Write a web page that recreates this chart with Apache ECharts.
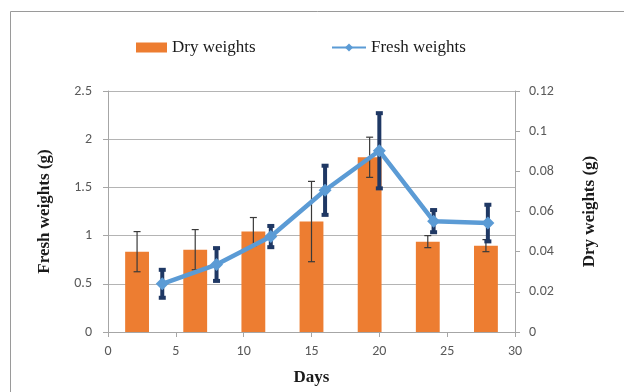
<!DOCTYPE html>
<html>
<head>
<meta charset="utf-8">
<script src="https://cdn.jsdelivr.net/npm/echarts@6/dist/echarts.min.js"></script>
<style>
  html, body { margin: 0; padding: 0; background: #ffffff; }
  #chart { width: 624px; height: 392px; }
</style>
</head>
<body>
<div id="chart"></div>
<script>
// ---- data ----
var days = [4, 8, 12, 16, 20, 24, 28];
var dryWeights = [0.040, 0.041, 0.050, 0.055, 0.087, 0.045, 0.043];
var dryErr = [0.010, 0.010, 0.007, 0.020, 0.010, 0.003, 0.003];
var freshWeights = [0.50, 0.70, 0.99, 1.47, 1.88, 1.15, 1.13];
var freshErr = [0.145, 0.17, 0.11, 0.255, 0.39, 0.115, 0.19];
var xTicks = [0, 5, 10, 15, 20, 25, 30];
var leftTicks = [0, 0.5, 1, 1.5, 2, 2.5];
var rightTicks = [0, 0.02, 0.04, 0.06, 0.08, 0.1, 0.12];

var labelFont = 'Carlito, Lato, "Liberation Sans", sans-serif';
var serifFont = '"Liberation Serif", "DejaVu Serif", serif';
var axisColor = '#A6A6A6';
var gridColor = '#B4B4B4';

var chart = echarts.init(document.getElementById('chart'), null, { renderer: 'canvas' });

var freshLine = days.map(function (d, i) { return [d, freshWeights[i]]; });
var freshErrData = days.map(function (d, i) { return [d, freshWeights[i] - freshErr[i], freshWeights[i] + freshErr[i]]; });
var dryErrData = days.map(function (d, i) { return [i, dryWeights[i] - dryErr[i], dryWeights[i] + dryErr[i]]; });

function errorRenderer(color, width, capHalf) {
  return function (params, api) {
    var x = api.value(0);
    var lo = api.coord([x, api.value(1)]);
    var hi = api.coord([x, api.value(2)]);
    var st = { stroke: color, lineWidth: width, fill: null };
    return {
      type: 'group',
      children: [
        { type: 'line', shape: { x1: hi[0], y1: hi[1], x2: lo[0], y2: lo[1] }, style: st },
        { type: 'line', shape: { x1: hi[0] - capHalf, y1: hi[1], x2: hi[0] + capHalf, y2: hi[1] }, style: st },
        { type: 'line', shape: { x1: lo[0] - capHalf, y1: lo[1], x2: lo[0] + capHalf, y2: lo[1] }, style: st }
      ]
    };
  };
}

var option = {
  animation: false,
  backgroundColor: '#ffffff',
  graphic: [{
    type: 'rect',
    shape: { x: 10.5, y: 11.5, width: 700, height: 500 },
    style: { fill: null, stroke: '#9A9A9A', lineWidth: 1 },
    silent: true
  }],
  legend: [{
    data: ['Dry weights'],
    left: 136, top: 39,
    padding: 0,
    itemWidth: 31, itemHeight: 10,
    icon: 'rect',
    textStyle: { fontFamily: serifFont, fontSize: 17, color: '#1a1a1a' }
  }, {
    data: ['Fresh weights'],
    left: 331, top: 39,
    padding: 0,
    itemWidth: 34, itemHeight: 10,
    textStyle: { fontFamily: serifFont, fontSize: 17, color: '#1a1a1a' }
  }],
  grid: { left: 108, right: 109, top: 91, bottom: 60, containLabel: false },
  xAxis: [{
    type: 'value',
    min: 0, max: 30, interval: 5,
    position: 'bottom',
    name: 'Days',
    nameLocation: 'middle',
    nameGap: 37,
    nameTextStyle: { fontFamily: serifFont, fontSize: 17, fontWeight: 'bold', color: '#1a1a1a' },
    axisLine: { show: true, lineStyle: { color: axisColor, width: 1 } },
    axisTick: { show: true, length: 5, lineStyle: { color: axisColor } },
    axisLabel: { margin: 12, fontFamily: labelFont, fontSize: 14, color: '#595959' },
    splitLine: { show: false }
  }, {
    type: 'category',
    data: days.map(String),
    boundaryGap: true,
    show: false,
    position: 'bottom'
  }],
  yAxis: [{
    type: 'value',
    min: 0, max: 2.5, interval: 0.5,
    position: 'left',
    name: 'Fresh weights (g)',
    nameLocation: 'middle',
    nameGap: 55,
    nameRotate: 90,
    nameTextStyle: { fontFamily: serifFont, fontSize: 17, fontWeight: 'bold', color: '#1a1a1a' },
    axisLine: { show: true, lineStyle: { color: axisColor, width: 1 } },
    axisTick: { show: true, length: 5, lineStyle: { color: axisColor } },
    axisLabel: { margin: 16, fontFamily: labelFont, fontSize: 14, color: '#595959' },
    splitLine: { show: true, lineStyle: { color: gridColor, width: 1 } }
  }, {
    type: 'value',
    min: 0, max: 0.12, interval: 0.02,
    position: 'right',
    name: 'Dry weights (g)',
    nameLocation: 'middle',
    nameGap: 66,
    nameRotate: 90,
    nameTextStyle: { fontFamily: serifFont, fontSize: 17, fontWeight: 'bold', color: '#1a1a1a' },
    axisLine: { show: true, lineStyle: { color: axisColor, width: 1 } },
    axisTick: { show: true, length: 5, lineStyle: { color: axisColor } },
    axisLabel: { margin: 14, fontFamily: labelFont, fontSize: 14, color: '#595959' },
    splitLine: { show: false }
  }],
  series: [{
    name: 'Dry weights',
    type: 'bar',
    xAxisIndex: 1,
    yAxisIndex: 1,
    data: dryWeights,
    barWidth: '41%',
    itemStyle: { color: '#ED7D31' },
    z: 2
  }, {
    name: 'dryErr',
    type: 'custom',
    xAxisIndex: 1,
    yAxisIndex: 1,
    data: dryErrData,
    renderItem: errorRenderer('#3a3a3a', 1.2, 3.5),
    z: 3,
    silent: true
  }, {
    name: 'freshErr',
    type: 'custom',
    xAxisIndex: 0,
    yAxisIndex: 0,
    data: freshErrData,
    renderItem: errorRenderer('#1F3864', 4, 3.5),
    z: 4,
    silent: true
  }, {
    name: 'Fresh weights',
    type: 'line',
    xAxisIndex: 0,
    yAxisIndex: 0,
    data: freshLine,
    symbol: 'diamond',
    symbolSize: 13,
    lineStyle: { color: '#5B9BD5', width: 4.5 },
    itemStyle: { color: '#5B9BD5', borderWidth: 0 },
    z: 5
  }]
};

chart.setOption(option);
</script>
</body>
</html>
